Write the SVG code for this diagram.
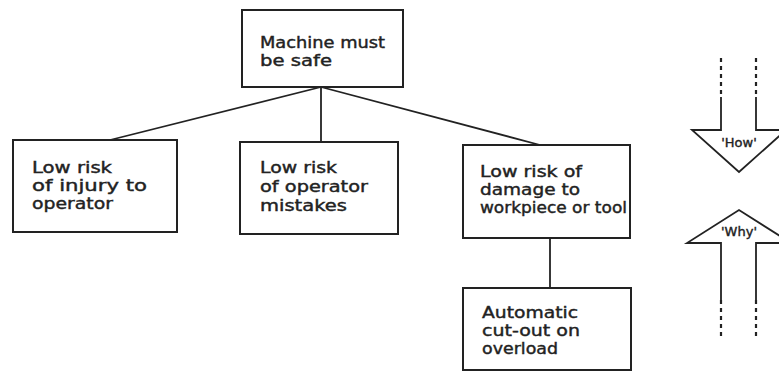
<svg xmlns="http://www.w3.org/2000/svg" width="779" height="374" viewBox="0 0 779 374">
<style>
.box{fill:#fff;stroke:#222;stroke-width:2}
.ln{stroke:#222;stroke-width:1.8;fill:none}
.dot{stroke:#222;stroke-width:2.2;fill:none;stroke-dasharray:4 4}
text{font-family:"DejaVu Sans","Liberation Sans",sans-serif;font-size:15px;fill:#222;stroke:#222;stroke-width:0.4}
.sm{font-size:13px}
</style>
<rect width="779" height="374" fill="#fff"/>
<g id="connectors">
<line class="ln" x1="321" y1="87" x2="110" y2="140"/>
<line class="ln" x1="321" y1="87" x2="321" y2="142"/>
<line class="ln" x1="321" y1="87" x2="540" y2="145"/>
<line class="ln" x1="550" y1="238" x2="550" y2="288"/>
</g>
<g id="n-machine">
<rect class="box" x="242" y="10" width="161" height="77"/>
<text x="260" y="48" textLength="125" lengthAdjust="spacingAndGlyphs">Machine must</text>
<text x="260" y="66" textLength="72" lengthAdjust="spacingAndGlyphs">be safe</text>
</g>
<g id="n-injury">
<rect class="box" x="13" y="140" width="164" height="92"/>
<text x="32" y="173" textLength="80" lengthAdjust="spacingAndGlyphs">Low risk</text>
<text x="32" y="191" textLength="115" lengthAdjust="spacingAndGlyphs">of injury to</text>
<text x="32" y="209" textLength="81" lengthAdjust="spacingAndGlyphs">operator</text>
</g>
<g id="n-mistakes">
<rect class="box" x="240" y="142" width="158" height="92"/>
<text x="260" y="173" textLength="77" lengthAdjust="spacingAndGlyphs">Low risk</text>
<text x="260" y="192" textLength="108" lengthAdjust="spacingAndGlyphs">of operator</text>
<text x="260" y="211" textLength="87" lengthAdjust="spacingAndGlyphs">mistakes</text>
</g>
<g id="n-damage">
<rect class="box" x="463" y="145" width="167" height="93"/>
<text x="480" y="177" textLength="102" lengthAdjust="spacingAndGlyphs">Low risk of</text>
<text x="480" y="195" textLength="100" lengthAdjust="spacingAndGlyphs">damage to</text>
<text x="480" y="213" textLength="147" lengthAdjust="spacingAndGlyphs">workpiece or tool</text>
</g>
<g id="n-cutout">
<rect class="box" x="463" y="288" width="168" height="82"/>
<text x="482" y="318" textLength="96" lengthAdjust="spacingAndGlyphs">Automatic</text>
<text x="482" y="336" textLength="98" lengthAdjust="spacingAndGlyphs">cut-out on</text>
<text x="482" y="354" textLength="76" lengthAdjust="spacingAndGlyphs">overload</text>
</g>
<g id="how-arrow">
<line class="dot" x1="721" y1="58" x2="721" y2="97"/>
<line class="dot" x1="756" y1="58" x2="756" y2="97"/>
<path class="ln" d="M721 97 V130 H692 L739 172 L786 130 H756 V97"/>
<text class="sm" x="739" y="147" text-anchor="middle">'How'</text>
</g>
<g id="why-arrow">
<path class="ln" d="M721 300 V243 H687 L739 210 L791 243 H756 V300"/>
<line class="dot" x1="721" y1="300" x2="721" y2="336"/>
<line class="dot" x1="756" y1="300" x2="756" y2="336"/>
<text class="sm" x="739" y="236" text-anchor="middle">'Why'</text>
</g>
</svg>
